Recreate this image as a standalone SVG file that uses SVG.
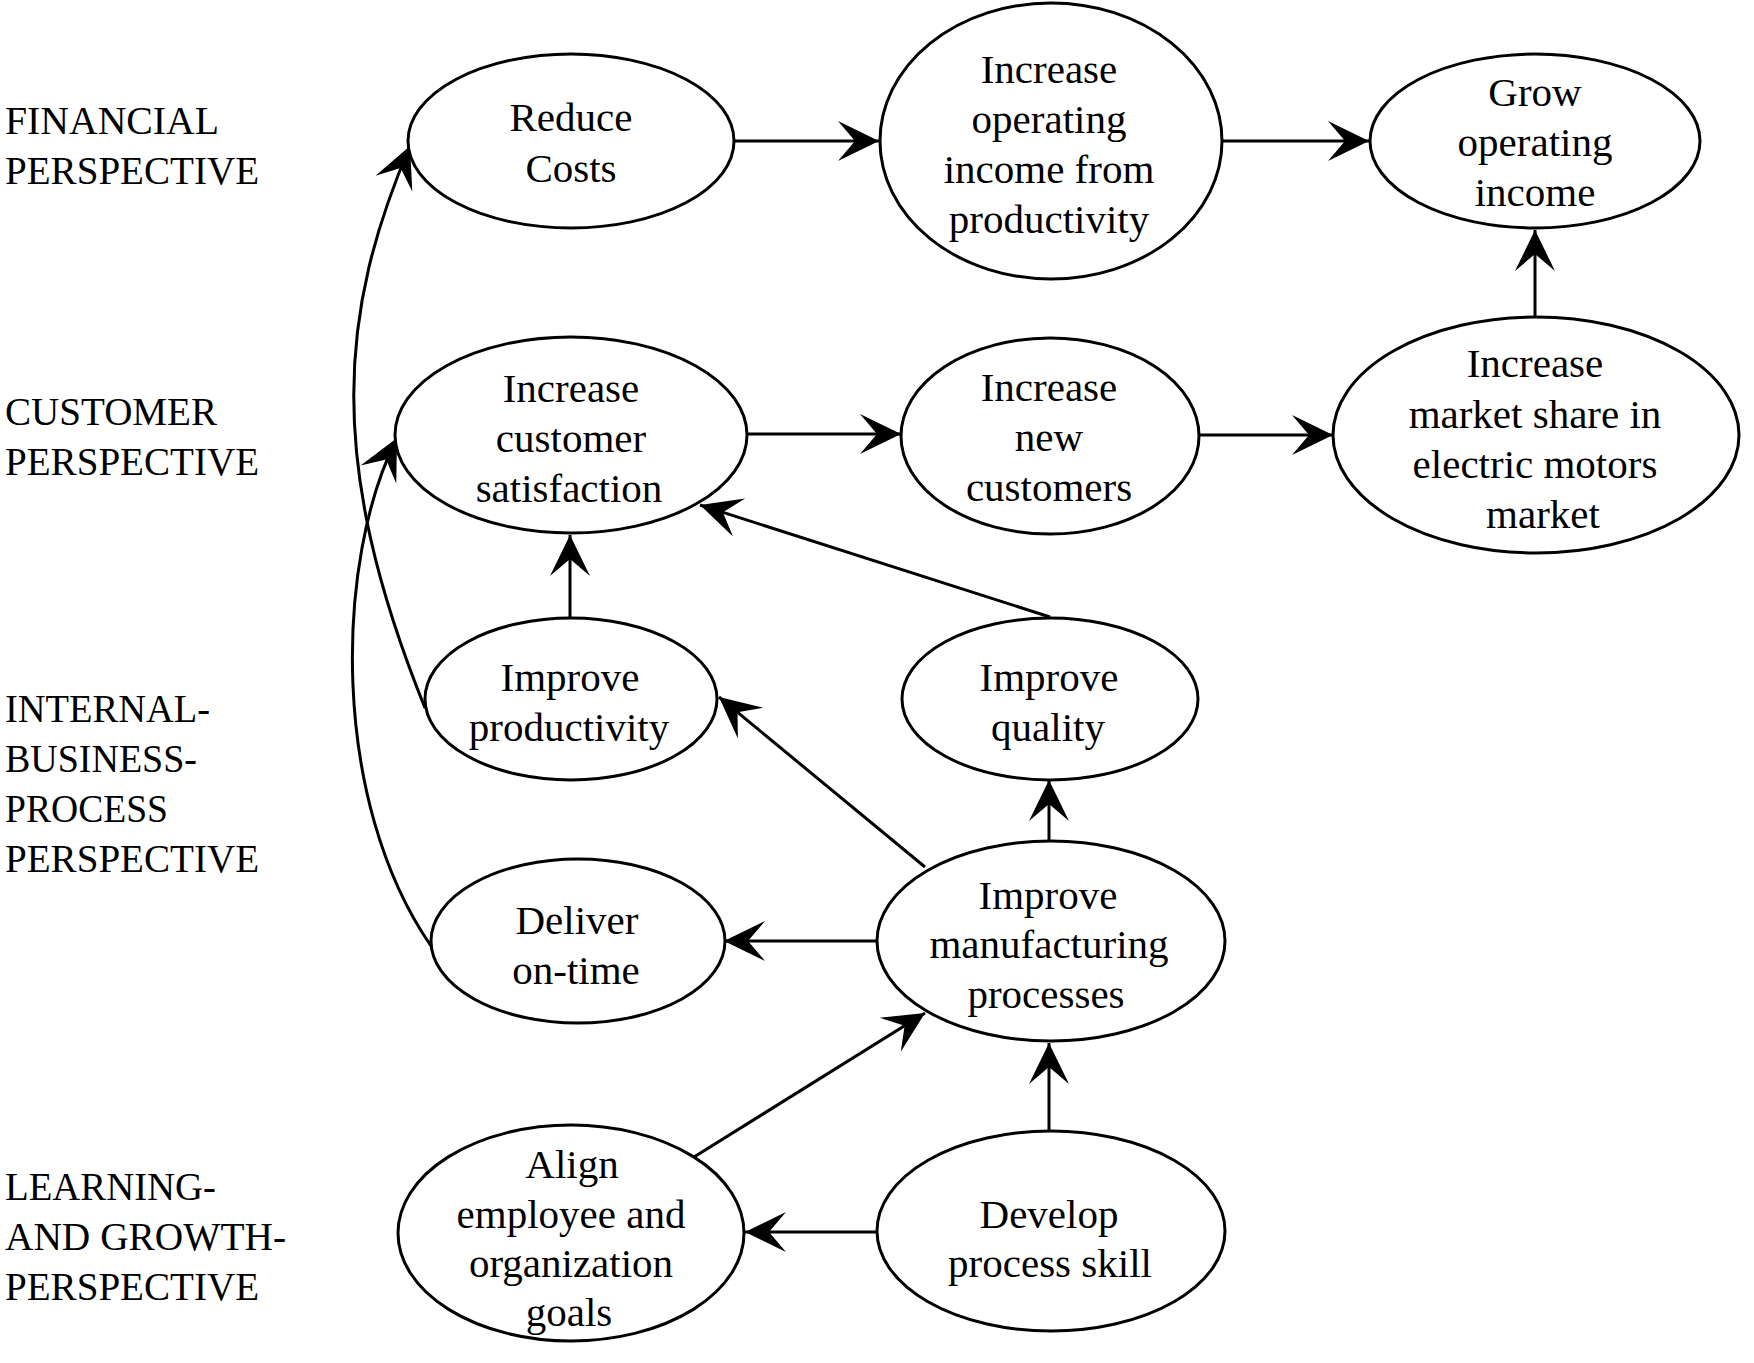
<svg xmlns="http://www.w3.org/2000/svg" width="1754" height="1363" viewBox="0 0 1754 1363">
<style>
  .n ellipse { fill: #fff; stroke: #000; stroke-width: 3; }
  text { font-family: "Liberation Serif", "Times New Roman", serif; fill: #000; }
  .n text { font-size: 41px; text-anchor: middle; }
  .lbl text { font-size: 40px; }
  #connectors path { fill: none; stroke: #000; stroke-width: 3; marker-end: url(#ah); }
</style>
<defs>
  <marker id="ah" viewBox="-42 -21 44 42" markerWidth="44" markerHeight="42" refX="0" refY="0" orient="auto" markerUnits="userSpaceOnUse">
    <path d="M0,0 L-41,-20 L-24,0 L-41,20 Z" fill="#000"/>
  </marker>
</defs>
<rect width="1754" height="1363" fill="#fff"/>

<g class="lbl" id="labels">
  <text x="5" y="134" textLength="214" lengthAdjust="spacingAndGlyphs">FINANCIAL</text>
  <text x="5" y="184" textLength="254" lengthAdjust="spacingAndGlyphs">PERSPECTIVE</text>
  <text x="5" y="425" textLength="212" lengthAdjust="spacingAndGlyphs">CUSTOMER</text>
  <text x="5" y="475" textLength="254" lengthAdjust="spacingAndGlyphs">PERSPECTIVE</text>
  <text x="5" y="722" textLength="205" lengthAdjust="spacingAndGlyphs">INTERNAL-</text>
  <text x="5" y="772" textLength="192" lengthAdjust="spacingAndGlyphs">BUSINESS-</text>
  <text x="5" y="822" textLength="163" lengthAdjust="spacingAndGlyphs">PROCESS</text>
  <text x="5" y="872" textLength="254" lengthAdjust="spacingAndGlyphs">PERSPECTIVE</text>
  <text x="5" y="1200" textLength="211" lengthAdjust="spacingAndGlyphs">LEARNING-</text>
  <text x="5" y="1250" textLength="281" lengthAdjust="spacingAndGlyphs">AND GROWTH-</text>
  <text x="5" y="1300" textLength="254" lengthAdjust="spacingAndGlyphs">PERSPECTIVE</text>
</g>

<g id="connectors">
  <path d="M733,141 L879,141"/>
  <path d="M1223,141 L1369,141"/>
  <path d="M1535,316 L1535,230"/>
  <path d="M747,434 L901,434"/>
  <path d="M1199,435 L1333,435"/>
  <path d="M570,617 L570,535"/>
  <path d="M1050,617 L700,505"/>
  <path d="M925,867 L719,697"/>
  <path d="M1049,841 L1049,780"/>
  <path d="M877,941 L724,941"/>
  <path d="M1049,1131 L1049,1043"/>
  <path d="M877,1232 L745,1232"/>
  <path d="M694,1157 L925,1013"/>
  <path d="M425,708 C325,460 340,310 410,146"/>
  <path d="M431,946 C330,800 335,560 397,438"/>
</g>

<g class="n" id="reduce-costs">
  <ellipse cx="571" cy="141" rx="163" ry="87"/>
  <text x="571" y="131">Reduce</text>
  <text x="571" y="182">Costs</text>
</g>
<g class="n" id="increase-operating-income">
  <ellipse cx="1051" cy="141" rx="171" ry="138"/>
  <text x="1049" y="83">Increase</text>
  <text x="1049" y="133">operating</text>
  <text x="1049" y="183">income from</text>
  <text x="1049" y="233">productivity</text>
</g>
<g class="n" id="grow-operating-income">
  <ellipse cx="1535" cy="141" rx="165" ry="87"/>
  <text x="1535" y="106">Grow</text>
  <text x="1535" y="156">operating</text>
  <text x="1535" y="206">income</text>
</g>
<g class="n" id="increase-customer-satisfaction">
  <ellipse cx="571" cy="435" rx="176" ry="98"/>
  <text x="571" y="402">Increase</text>
  <text x="571" y="452">customer</text>
  <text x="569" y="502">satisfaction</text>
</g>
<g class="n" id="increase-new-customers">
  <ellipse cx="1050" cy="436" rx="149" ry="98"/>
  <text x="1049" y="401">Increase</text>
  <text x="1049" y="451">new</text>
  <text x="1049" y="501">customers</text>
</g>
<g class="n" id="increase-market-share">
  <ellipse cx="1536" cy="435" rx="203" ry="118"/>
  <text x="1535" y="377">Increase</text>
  <text x="1535" y="428">market share in</text>
  <text x="1535" y="478">electric motors</text>
  <text x="1543" y="528">market</text>
</g>
<g class="n" id="improve-productivity">
  <ellipse cx="571" cy="699" rx="146" ry="81"/>
  <text x="570" y="691">Improve</text>
  <text x="569" y="741">productivity</text>
</g>
<g class="n" id="improve-quality">
  <ellipse cx="1050" cy="699" rx="148" ry="81"/>
  <text x="1049" y="691">Improve</text>
  <text x="1048" y="741">quality</text>
</g>
<g class="n" id="deliver-on-time">
  <ellipse cx="578" cy="941" rx="147" ry="82"/>
  <text x="577" y="934">Deliver</text>
  <text x="576" y="984">on-time</text>
</g>
<g class="n" id="improve-manufacturing-processes">
  <ellipse cx="1051" cy="941" rx="174" ry="100"/>
  <text x="1048" y="909">Improve</text>
  <text x="1049" y="958">manufacturing</text>
  <text x="1046" y="1008">processes</text>
</g>
<g class="n" id="align-goals">
  <ellipse cx="571" cy="1233" rx="173" ry="108"/>
  <text x="572" y="1178">Align</text>
  <text x="571" y="1228">employee and</text>
  <text x="571" y="1277">organization</text>
  <text x="569" y="1326">goals</text>
</g>
<g class="n" id="develop-process-skill">
  <ellipse cx="1051" cy="1231" rx="174" ry="100"/>
  <text x="1049" y="1228">Develop</text>
  <text x="1050" y="1277">process skill</text>
</g>
</svg>
